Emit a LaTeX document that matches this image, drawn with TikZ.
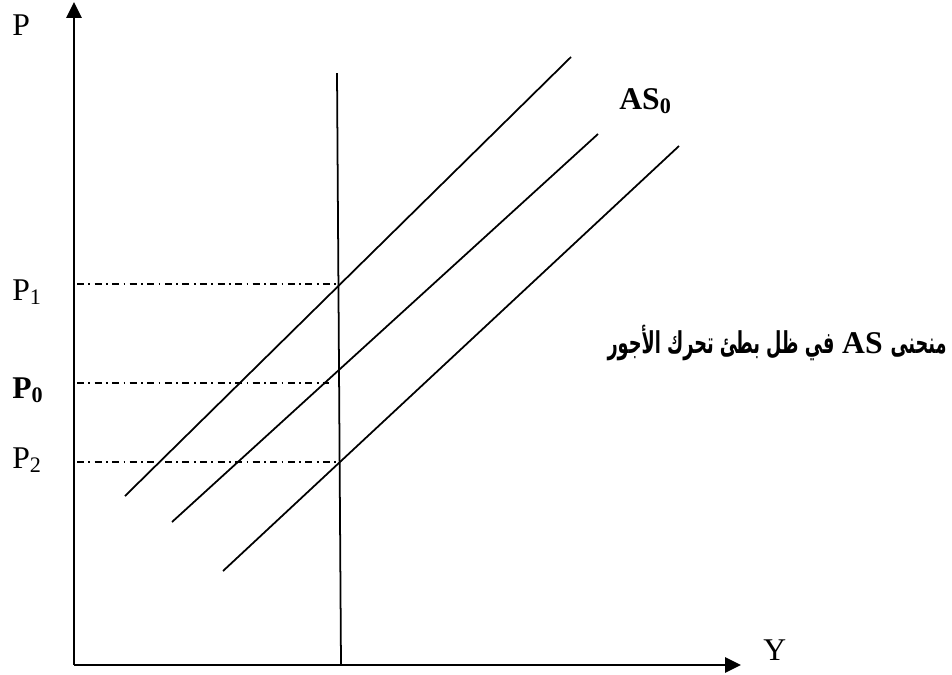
\documentclass[tikz,border=0pt]{standalone}
\usepackage{fontspec}
\setmainfont{Liberation Serif}
\newfontfamily\arabicfont[Script=Arabic]{DejaVu Sans}
\TeXXeTstate=1
\usetikzlibrary{arrows.meta}

\newcommand\arpart[1]{\scalebox{0.56}[0.95]{\arabicfont\bfseries\beginR #1\endR}}

\begin{document}
\begin{tikzpicture}[
    x=0.02cm, y=-0.02cm,
    font=\fontsize{18}{20}\selectfont,
    axis/.style={line width=1.6pt, -{Triangle[length=9pt,width=8.5pt]}},
    curve/.style={line width=1pt},
    guide/.style={line width=1pt, dash pattern=on 4pt off 2.5pt on 1pt off 2.5pt},
    lbl/.style={anchor=base west, inner sep=0pt}
]
\useasboundingbox (0,0) rectangle (952,674);

% =========================================================
% Axes
% =========================================================
\coordinate (O) at (74,665);
\coordinate (ytop) at (74,2);
\coordinate (xend) at (741,665);
\draw[axis] (O) -- (ytop);
\draw[axis] (O) -- (xend);

\node[lbl] (plab) at (12,35) {P};
\node[lbl] (ylab) at (763,660) {Y};

% Vertical line
\coordinate (vtop) at (337,73);
\coordinate (vbot) at (341,665);
\draw[curve] (vtop) -- (vbot);

% =========================================================
% AS curves
% =========================================================
\coordinate (a1) at (125,496);
\coordinate (b1) at (571,57);
\coordinate (a2) at (172,522);
\coordinate (b2) at (598,134);
\coordinate (a3) at (223,571);
\coordinate (b3) at (679,146);
\draw[curve] (a1) -- (b1);
\draw[curve] (a2) -- (b2);
\draw[curve] (a3) -- (b3);

\node[lbl] (as0) at (619,109) {\textbf{AS\textsubscript{0}}};

% =========================================================
% Price levels
% =========================================================
\coordinate (p1s) at (77,284);
\coordinate (p1e) at (338,284);
\coordinate (p0s) at (77,383);
\coordinate (p0e) at (329,383);
\coordinate (p2s) at (77,462);
\coordinate (p2e) at (340,462);
\draw[guide] (p1s) -- (p1e);
\draw[guide] (p0s) -- (p0e);
\draw[guide] (p2s) -- (p2e);

\node[lbl] (p1lab) at (12,300) {P\textsubscript{1}};
\node[lbl] (p0lab) at (12,398) {\textbf{P\textsubscript{0}}};
\node[lbl] (p2lab) at (12,468) {P\textsubscript{2}};

% Caption
\node[anchor=base east, inner sep=0pt] (cap) at (947,353)
    {\arpart{في ظل بطئ تحرك الأجور} \textbf{AS} \arpart{منحنى}};

\end{tikzpicture}
\end{document}
